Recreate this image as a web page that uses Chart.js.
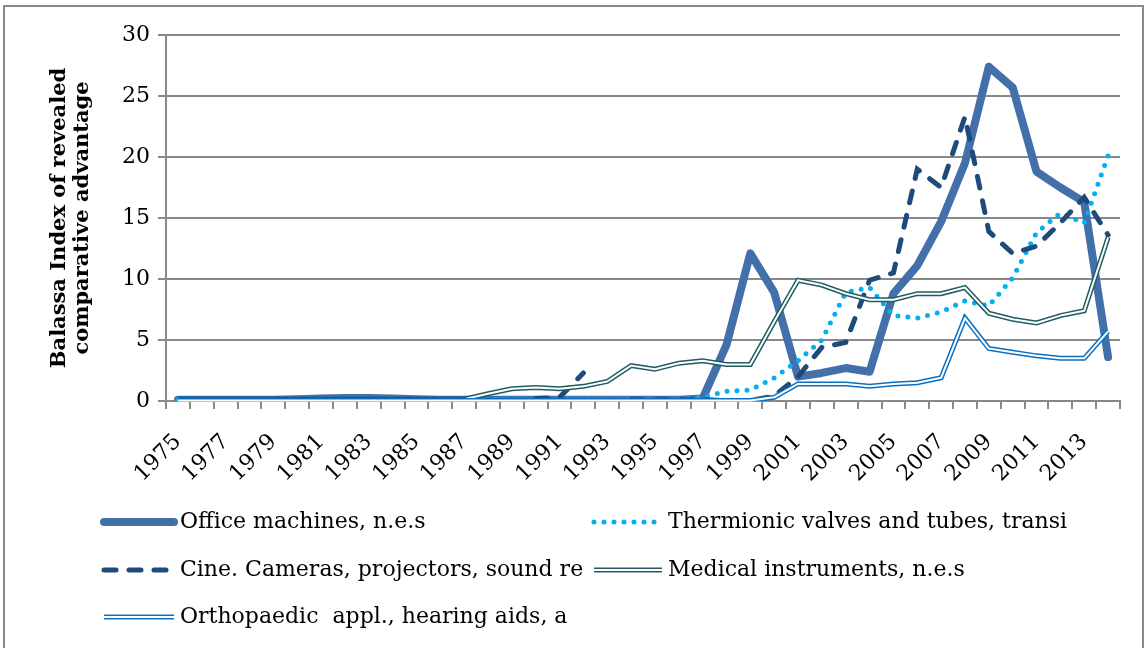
<!DOCTYPE html>
<html>
<head>
<meta charset="utf-8">
<script src="https://cdn.jsdelivr.net/npm/chart.js@4.4.1/dist/chart.umd.min.js"></script>
<style>
html, body { margin: 0; padding: 0; background: #fff; }
</style>
</head>
<body>
<canvas id="myChart" width="1148" height="648"></canvas>
<script>
var years = ["1975","1976","1977","1978","1979","1980","1981","1982","1983","1984",
             "1985","1986","1987","1988","1989","1990","1991","1992","1993","1994",
             "1995","1996","1997","1998","1999","2000","2001","2002","2003","2004",
             "2005","2006","2007","2008","2009","2010","2011","2012","2013","2014"];

var yTicks = [0, 5, 10, 15, 20, 25, 30];

var seriesNames = ["Office machines, n.e.s",
                   "Thermionic valves and tubes, transi",
                   "Cine. Cameras, projectors, sound re",
                   "Medical instruments, n.e.s",
                   "Orthopaedic  appl., hearing aids, a"];

var officeMachines = [0.1, 0.1, 0.1, 0.1, 0.1, 0.15, 0.2, 0.25, 0.25, 0.2,
                      0.15, 0.1, 0.1, 0.1, 0.1, 0.1, 0.1, 0.1, 0.1, 0.1,
                      0.1, 0.1, 0.2, 4.6, 12.1, 8.9, 2.0, 2.3, 2.7, 2.4,
                      8.8, 11.1, 14.7, 19.5, 27.4, 25.7, 18.8, 17.5, 16.3, 3.6];

var thermionic = [0.1, 0.1, 0.1, 0.1, 0.1, 0.1, 0.1, 0.1, 0.1, 0.1,
                  0.1, 0.1, 0.1, 0.05, 0.05, 0.05, 0.1, 0.1, 0.1, 0.1,
                  0.1, 0.1, 0.3, 0.8, 0.9, 1.9, 3.3, 5.0, 8.9, 9.3,
                  7.0, 6.8, 7.3, 8.2, 7.8, 10.1, 13.8, 15.4, 14.6, 20.1];

var cineCameras = [null, null, null, null, null, null, null, null, null, null,
                   null, null, null, null, null, 0.2, 0.3, 2.3, null, 0.1,
                   0.1, 0.1, 0.1, 0.05, 0.05, 0.4, 2.0, 4.4, 4.8, 9.9,
                   10.5, 19.0, 17.5, 23.3, 13.9, 12.1, 12.7, 14.6, 16.7, 13.6];

var medical = [0.15, 0.15, 0.15, 0.15, 0.15, 0.15, 0.15, 0.15, 0.15, 0.15,
               0.15, 0.15, 0.15, 0.6, 1.0, 1.1, 1.0, 1.2, 1.6, 2.9,
               2.6, 3.1, 3.3, 3.0, 3.0, 6.5, 9.9, 9.5, 8.8, 8.3,
               8.3, 8.8, 8.8, 9.3, 7.2, 6.7, 6.4, 7.0, 7.4, 13.4];

var orthopaedic = [0.05, 0.05, 0.05, 0.05, 0.05, 0.05, 0.05, 0.05, 0.05, 0.05,
                   0.05, 0.05, 0.05, 0.05, 0.05, 0.05, 0.05, 0.05, 0.05, 0.05,
                   0.05, 0.05, 0.05, 0.05, 0.05, 0.3, 1.4, 1.4, 1.4, 1.2,
                   1.4, 1.5, 1.9, 6.8, 4.3, 4.0, 3.7, 3.5, 3.5, 5.7];

var serif = "'DejaVu Serif', 'Liberation Serif', serif";
var gridGray = "#898989";

// white centre stroke for the "double" lines (Excel compound line look)
var doubleLinePlugin = {
    id: "doubleLine",
    afterDatasetDraw: function(chart, args) {
        var ds = chart.data.datasets[args.index];
        if (!ds.innerWidth) return;
        var ctx = chart.ctx;
        var pts = args.meta.data;
        ctx.save();
        ctx.strokeStyle = "#ffffff";
        ctx.lineWidth = ds.innerWidth;
        ctx.lineJoin = "round";
        ctx.beginPath();
        var started = false;
        for (var i = 0; i < pts.length; i++) {
            if (pts[i].skip) { started = false; continue; }
            if (!started) { ctx.moveTo(pts[i].x, pts[i].y); started = true; }
            else ctx.lineTo(pts[i].x, pts[i].y);
        }
        ctx.stroke();
        ctx.restore();
    }
};

// frame round the whole chart and the two-column legend underneath
var legendSpots = [
    {x: 100, y: 522, len: 78},
    {x: 590, y: 522, len: 76},
    {x: 100, y: 570, len: 78},
    {x: 590, y: 570, len: 76},
    {x: 100, y: 617, len: 78}
];

var frameLegendPlugin = {
    id: "frameLegend",
    beforeDraw: function(chart) {
        var ctx = chart.ctx;
        ctx.save();
        ctx.fillStyle = "#fff";
        ctx.fillRect(0, 0, chart.width, chart.height);
        ctx.strokeStyle = gridGray;
        ctx.lineWidth = 2;
        ctx.strokeRect(4, 6, 1139, 700);
        ctx.restore();
    },
    afterDraw: function(chart) {
        var ctx = chart.ctx;
        ctx.save();
        chart.data.datasets.forEach(function(ds, i) {
            var s = legendSpots[i];
            ctx.beginPath();
            ctx.strokeStyle = ds.borderColor;
            ctx.lineWidth = ds.borderWidth;
            ctx.lineCap = ds.borderCapStyle || "butt";
            ctx.setLineDash(ds.borderDash || []);
            ctx.moveTo(s.x + 4, s.y);
            ctx.lineTo(s.x + s.len - 4, s.y);
            ctx.stroke();
            if (ds.innerWidth) {
                ctx.beginPath();
                ctx.setLineDash([]);
                ctx.strokeStyle = "#fff";
                ctx.lineWidth = ds.innerWidth;
                ctx.moveTo(s.x + 4, s.y);
                ctx.lineTo(s.x + s.len - 4, s.y);
                ctx.stroke();
            }
            ctx.setLineDash([]);
            ctx.fillStyle = "#000";
            ctx.font = "22px " + serif;
            ctx.textBaseline = "middle";
            ctx.textAlign = "left";
            ctx.fillText(ds.label, s.x + s.len + 2, s.y);
        });
        ctx.restore();
    }
};

new Chart("myChart", {
    type: "line",
    data: {
        labels: years,
        datasets: [
            {
                label: seriesNames[0],
                data: officeMachines,
                borderColor: "#4370aa",
                borderWidth: 8,
                borderCapStyle: "round",
                borderJoinStyle: "round",
                order: 0
            },
            {
                label: seriesNames[1],
                data: thermionic,
                borderColor: "#00b0f0",
                borderWidth: 5,
                borderDash: [0, 10],
                borderCapStyle: "round",
                order: -1
            },
            {
                label: seriesNames[2],
                data: cineCameras,
                borderColor: "#1f4a7c",
                borderWidth: 5,
                borderDash: [12, 13],
                borderCapStyle: "round",
                order: -2
            },
            {
                label: seriesNames[3],
                data: medical,
                borderColor: "#1f5c63",
                borderWidth: 5,
                innerWidth: 2,
                order: -3
            },
            {
                label: seriesNames[4],
                data: orthopaedic,
                borderColor: "#0a6fc0",
                borderWidth: 5,
                innerWidth: 2,
                order: -4
            }
        ]
    },
    options: {
        responsive: false,
        animation: false,
        elements: {
            point: { radius: 0, hoverRadius: 0 },
            line: { tension: 0, fill: false }
        },
        layout: { padding: { top: 35, right: 28, left: 0, bottom: 0 } },
        plugins: {
            legend: { display: false },
            tooltip: { enabled: false }
        },
        scales: {
            x: {
                offset: true,
                grid: {
                    offset: true,
                    drawOnChartArea: false,
                    color: gridGray,
                    lineWidth: 2,
                    tickLength: 8
                },
                border: { color: gridGray, width: 2 },
                ticks: {
                    autoSkip: false,
                    maxRotation: 45,
                    minRotation: 45,
                    padding: 20,
                    color: "#000",
                    font: { family: serif, size: 22 },
                    callback: function(val, idx) {
                        return idx % 2 === 0 ? years[idx] : "";
                    }
                },
                afterFit: function(scale) { scale.height = 247; }
            },
            y: {
                min: 0,
                max: 30,
                afterBuildTicks: function(scale) {
                    scale.ticks = yTicks.map(function(v) { return {value: v}; });
                },
                grid: {
                    color: gridGray,
                    lineWidth: 2,
                    tickLength: 8
                },
                border: { color: gridGray, width: 2 },
                ticks: {
                    padding: 8,
                    color: "#000",
                    font: { family: serif, size: 22 }
                },
                title: {
                    display: true,
                    text: ["Balassa Index of revealed", "comparative advantage"],
                    color: "#000",
                    font: { family: serif, size: 21, weight: "bold", lineHeight: 1.05 },
                    padding: { top: 49, bottom: 0 }
                },
                afterFit: function(scale) { scale.width = 166; }
            }
        }
    },
    plugins: [doubleLinePlugin, frameLegendPlugin]
});
</script>
</body>
</html>
